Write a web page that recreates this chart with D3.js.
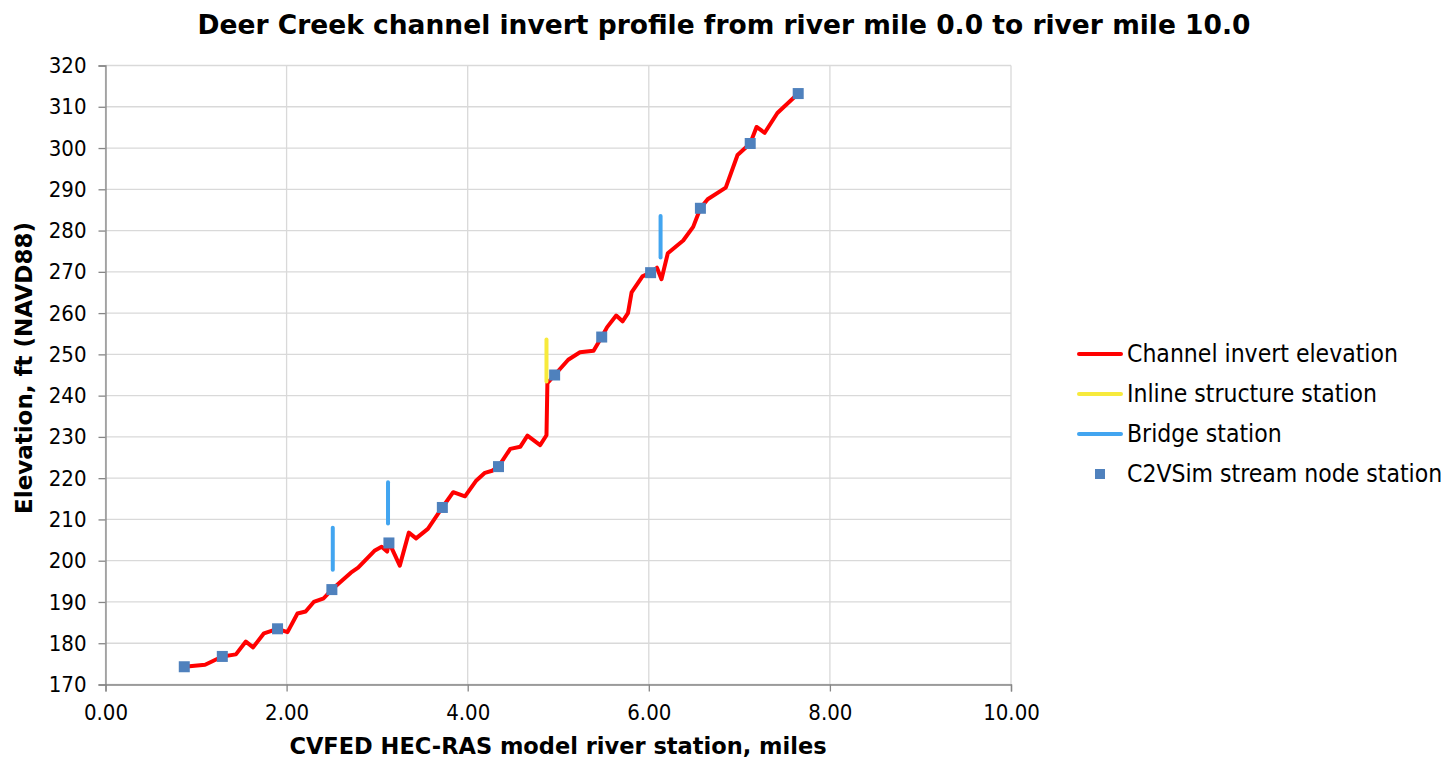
<!DOCTYPE html>
<html>
<head>
<meta charset="utf-8">
<script src="https://cdn.jsdelivr.net/npm/d3@7"></script>
<style>
  body { margin: 0; background: #fff; }
  svg text { font-family: "DejaVu Sans Condensed", "DejaVu Sans", sans-serif; font-stretch: condensed; fill: #000; }
  svg text.wide { font-family: "DejaVu Sans", sans-serif; font-stretch: normal; }
</style>
</head>
<body>
<div id="chart"></div>
<script>
// channel invert profile, river miles vs elevation (ft)
const invertMiles = [0.87, 1.10, 1.29, 1.44, 1.55, 1.63, 1.75, 1.90, 2.01, 2.12, 2.21, 2.30, 2.41, 2.50,
  2.71, 2.79, 2.97, 3.05, 3.11, 3.13, 3.25, 3.35, 3.43, 3.56, 3.72, 3.84, 3.97, 4.09, 4.19, 4.27, 4.34,
  4.47, 4.58, 4.66, 4.80, 4.87, 4.88, 4.96, 5.11, 5.24, 5.39, 5.48, 5.54, 5.64, 5.71, 5.77, 5.81, 5.93,
  6.02, 6.09, 6.14, 6.21, 6.38, 6.49, 6.57, 6.65, 6.85, 6.98, 7.12, 7.19, 7.28, 7.42, 7.65];
const invertElev = [174.3, 174.8, 176.8, 177.3, 180.4, 179.0, 182.4, 183.5, 182.7, 187.2, 187.7, 190.0, 190.9, 193.0,
  197.1, 198.3, 202.4, 203.4, 202.2, 204.5, 198.8, 206.8, 205.4, 207.7, 212.9, 216.6, 215.6, 219.3, 221.3, 221.8, 222.8,
  227.1, 227.6, 230.3, 228.0, 230.4, 243.0, 245.0, 248.7, 250.5, 250.9, 254.2, 256.6, 259.4, 258.0, 260.0, 265.0, 268.9,
  269.8, 271.0, 268.2, 274.5, 277.6, 280.9, 285.4, 287.6, 290.4, 298.3, 301.1, 305.1, 303.7, 308.5, 313.2];

// inline structure
const inlineMiles = [4.87];
const inlineLow = [243.4];
const inlineHigh = [253.6];

// bridges
const bridgeMiles = [2.51, 3.12, 6.13];
const bridgeLow = [197.8, 209.0, 273.5];
const bridgeHigh = [208.0, 219.0, 283.5];

// C2VSim stream nodes
const nodeMiles = [0.87, 1.29, 1.90, 2.50, 3.13, 3.72, 4.34, 4.96, 5.48, 6.02, 6.57, 7.12, 7.65];
const nodeElev = [174.3, 176.8, 183.5, 193.0, 204.3, 212.9, 222.8, 245.0, 254.2, 269.8, 285.4, 301.1, 313.2];

const xTicks = [0, 2, 4, 6, 8, 10];
const yTicks = d3.range(170, 321, 10);
const legendLabels = ["Channel invert elevation", "Inline structure station", "Bridge station", "C2VSim stream node station"];

const W = 1451, H = 758;
const margin = { top: 65.5, left: 105.5 };

const svg = d3.select("#chart").append("svg").attr("width", W).attr("height", H);

const x = d3.scaleLinear().domain([0, 10]).range([margin.left, 1011]);
const y = d3.scaleLinear().domain([170, 320]).range([684.5, margin.top]);

// grid
svg.append("g").selectAll("line").data(yTicks).enter().append("line")
  .attr("x1", x(0)).attr("x2", x(10))
  .attr("y1", d => y(d)).attr("y2", d => y(d))
  .attr("stroke", "#d9d9d9").attr("stroke-width", 1.3);
svg.append("g").selectAll("line").data(xTicks).enter().append("line")
  .attr("x1", d => x(d)).attr("x2", d => x(d))
  .attr("y1", y(170)).attr("y2", y(320))
  .attr("stroke", "#d9d9d9").attr("stroke-width", 1.3);

// axes
const yAxis = svg.append("g").attr("transform", `translate(${x(0)},0)`)
  .call(d3.axisLeft(y).tickValues(yTicks).tickSize(7).tickPadding(12).tickFormat(d3.format("d")));
const xAxis = svg.append("g").attr("transform", `translate(0,${y(170)})`)
  .call(d3.axisBottom(x).tickValues(xTicks).tickSize(7).tickPadding(13).tickFormat(d3.format(".2f")));
[xAxis, yAxis].forEach(a => {
  a.select(".domain").attr("stroke", "#868686").attr("stroke-width", 1.3);
  a.selectAll(".tick line").attr("stroke", "#868686").attr("stroke-width", 1.3);
  a.selectAll("text").attr("font-size", 22).attr("font-family", null).attr("fill", "#000");
});

// invert line
const line = d3.line().x(d => x(d[0])).y(d => y(d[1]));
svg.append("path")
  .datum(invertMiles.map((m, i) => [m, invertElev[i]]))
  .attr("d", line)
  .attr("fill", "none").attr("stroke", "#ff0000").attr("stroke-width", 4)
  .attr("stroke-linejoin", "round").attr("stroke-linecap", "round");

// inline structure
svg.append("g").selectAll("line").data(inlineMiles).enter().append("line")
  .attr("x1", d => x(d)).attr("x2", d => x(d))
  .attr("y1", (d, i) => y(inlineLow[i])).attr("y2", (d, i) => y(inlineHigh[i]))
  .attr("stroke", "#f7ea3c").attr("stroke-width", 4).attr("stroke-linecap", "round");

// bridges
svg.append("g").selectAll("line").data(bridgeMiles).enter().append("line")
  .attr("x1", d => x(d)).attr("x2", d => x(d))
  .attr("y1", (d, i) => y(bridgeLow[i])).attr("y2", (d, i) => y(bridgeHigh[i]))
  .attr("stroke", "#42a5f0").attr("stroke-width", 4).attr("stroke-linecap", "round");

// nodes
svg.append("g").selectAll("rect").data(nodeMiles).enter().append("rect")
  .attr("x", d => x(d) - 5.5).attr("y", (d, i) => y(nodeElev[i]) - 5.5)
  .attr("width", 11).attr("height", 11)
  .attr("fill", "#4f81bd");

// titles
svg.append("text").attr("class", "wide").attr("x", 724).attr("y", 34).attr("text-anchor", "middle")
  .attr("font-size", 26.5).attr("font-weight", "bold")
  .text("Deer Creek channel invert profile from river mile 0.0 to river mile 10.0");
svg.append("text").attr("class", "wide").attr("x", 558).attr("y", 754).attr("text-anchor", "middle")
  .attr("font-size", 22.5).attr("font-weight", "bold")
  .text("CVFED HEC-RAS model river station, miles");
svg.append("text").attr("class", "wide").attr("transform", "translate(32,368) rotate(-90)").attr("text-anchor", "middle")
  .attr("font-size", 23).attr("font-weight", "bold")
  .text("Elevation, ft (NAVD88)");

// legend
const legColors = ["#ff0000", "#f7ea3c", "#42a5f0"];
const leg = svg.append("g");
legendLabels.forEach((lab, i) => {
  const ly = 354 + i * 40;
  if (i < 3) {
    leg.append("line").attr("x1", 1079).attr("x2", 1121).attr("y1", ly).attr("y2", ly)
      .attr("stroke", legColors[i]).attr("stroke-width", 4).attr("stroke-linecap", "round");
  } else {
    leg.append("rect").attr("x", 1095).attr("y", ly - 5).attr("width", 10).attr("height", 10).attr("fill", "#4f81bd");
  }
  leg.append("text").attr("x", 1127).attr("y", ly + 8).attr("font-size", 24.5).text(lab);
});
</script>
</body>
</html>
